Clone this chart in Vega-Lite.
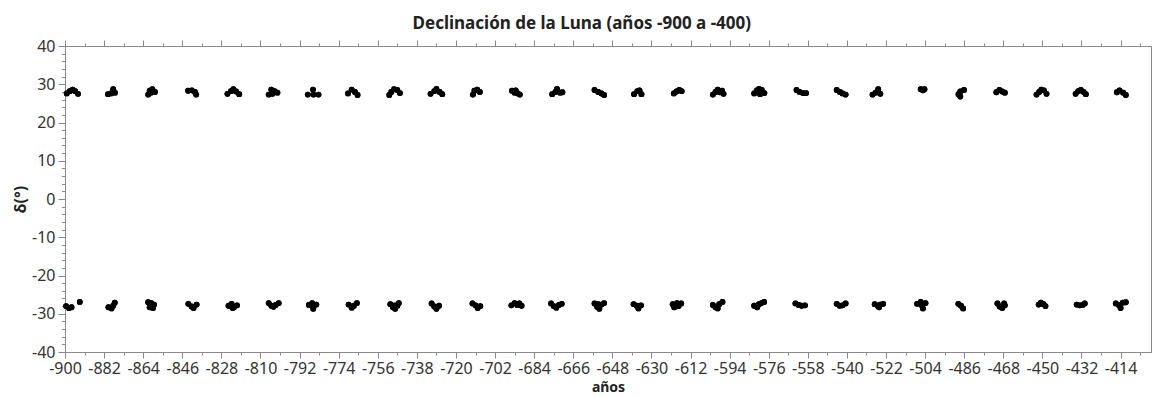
{
  "$schema": "https://vega.github.io/schema/vega-lite/v6.json",
  "width": 1086,
  "height": 306,
  "autosize": "none",
  "padding": {"left": 65, "top": 46, "right": 2, "bottom": 45},
  "background": "white",
  "config": {
    "view": {"stroke": "#8a8a8a", "strokeWidth": 1},
    "font": "Noto Sans",
    "axis": {
      "grid": false,
      "domainColor": "#8a8a8a",
      "tickColor": "#8a8a8a",
      "labelColor": "#333333",
      "labelFont": "Noto Sans",
      "labelFontSize": 16,
      "titleFont": "Noto Sans",
      "titleFontSize": 14,
      "titleFontWeight": "bold",
      "titleColor": "#222222",
      "labelOverlap": false,
      "labelFlush": false,
      "labelBound": false
    }
  },
  "title": {"text": "Declinación de la Luna (años -900 a -400)", "font": "Noto Sans", "fontSize": 17, "fontWeight": "bold", "color": "#222222", "anchor": "middle", "frame": "bounds", "offset": 5},
  "data": {"values": [
    {"year": -899.2, "dec": 27.6}, {"year": -897.8, "dec": 28.2}, {"year": -896.5, "dec": 28.6}, {"year": -895.3, "dec": 28.2}, {"year": -894.0, "dec": 27.5},
    {"year": -880.2, "dec": 27.4}, {"year": -878.8, "dec": 27.6}, {"year": -877.8, "dec": 28.7}, {"year": -877.0, "dec": 27.8},
    {"year": -861.7, "dec": 27.3}, {"year": -861.0, "dec": 28.3}, {"year": -859.8, "dec": 28.7}, {"year": -858.6, "dec": 28.0}, {"year": -860.5, "dec": 27.8},
    {"year": -843.3, "dec": 28.3}, {"year": -841.6, "dec": 28.4}, {"year": -840.2, "dec": 28.0}, {"year": -839.6, "dec": 27.3},
    {"year": -825.2, "dec": 27.5}, {"year": -823.6, "dec": 28.2}, {"year": -822.5, "dec": 28.7}, {"year": -821.2, "dec": 28.1}, {"year": -819.8, "dec": 27.4},
    {"year": -806.2, "dec": 27.3}, {"year": -805.0, "dec": 28.6}, {"year": -803.5, "dec": 28.2}, {"year": -802.2, "dec": 27.8}, {"year": -804.5, "dec": 27.5},
    {"year": -788.2, "dec": 27.3}, {"year": -785.8, "dec": 28.6}, {"year": -785.6, "dec": 27.3}, {"year": -783.3, "dec": 27.3},
    {"year": -769.7, "dec": 27.6}, {"year": -768.0, "dec": 28.6}, {"year": -766.5, "dec": 28.0}, {"year": -765.3, "dec": 27.2},
    {"year": -750.7, "dec": 27.2}, {"year": -749.8, "dec": 28.0}, {"year": -748.5, "dec": 28.7}, {"year": -747.0, "dec": 28.5}, {"year": -745.8, "dec": 27.7},
    {"year": -731.7, "dec": 27.5}, {"year": -730.0, "dec": 28.2}, {"year": -729.0, "dec": 28.8}, {"year": -727.5, "dec": 28.0}, {"year": -726.3, "dec": 27.4},
    {"year": -712.2, "dec": 27.3}, {"year": -711.5, "dec": 28.3}, {"year": -710.2, "dec": 28.6}, {"year": -709.0, "dec": 28.0},
    {"year": -694.2, "dec": 28.3}, {"year": -693.0, "dec": 27.8}, {"year": -691.5, "dec": 27.6}, {"year": -690.6, "dec": 27.3}, {"year": -692.5, "dec": 28.4},
    {"year": -675.7, "dec": 27.4}, {"year": -674.2, "dec": 28.0}, {"year": -673.5, "dec": 28.8}, {"year": -672.0, "dec": 27.8}, {"year": -671.0, "dec": 27.9},
    {"year": -656.2, "dec": 28.5}, {"year": -654.5, "dec": 28.0}, {"year": -653.0, "dec": 27.6}, {"year": -651.8, "dec": 27.2},
    {"year": -638.0, "dec": 27.4}, {"year": -636.5, "dec": 28.2}, {"year": -635.5, "dec": 28.4}, {"year": -634.6, "dec": 27.4},
    {"year": -619.7, "dec": 27.6}, {"year": -618.5, "dec": 28.1}, {"year": -617.2, "dec": 28.5}, {"year": -616.1, "dec": 28.2},
    {"year": -601.7, "dec": 27.3}, {"year": -600.5, "dec": 28.0}, {"year": -599.5, "dec": 28.6}, {"year": -598.5, "dec": 27.9}, {"year": -597.5, "dec": 28.3}, {"year": -596.8, "dec": 27.5},
    {"year": -582.7, "dec": 27.6}, {"year": -581.5, "dec": 28.4}, {"year": -580.5, "dec": 28.8}, {"year": -579.2, "dec": 28.5}, {"year": -578.0, "dec": 27.7}, {"year": -580.0, "dec": 27.4},
    {"year": -563.2, "dec": 28.5}, {"year": -561.8, "dec": 28.0}, {"year": -560.2, "dec": 27.7}, {"year": -558.8, "dec": 27.7},
    {"year": -544.7, "dec": 28.5}, {"year": -543.2, "dec": 28.0}, {"year": -542.0, "dec": 27.6}, {"year": -540.6, "dec": 27.3},
    {"year": -528.2, "dec": 27.3}, {"year": -526.8, "dec": 27.8}, {"year": -525.6, "dec": 28.7}, {"year": -524.6, "dec": 27.5},
    {"year": -506.0, "dec": 28.7}, {"year": -505.0, "dec": 28.4}, {"year": -504.3, "dec": 28.7},
    {"year": -486.1, "dec": 28.5}, {"year": -487.8, "dec": 28.1}, {"year": -488.6, "dec": 27.4}, {"year": -487.8, "dec": 26.8},
    {"year": -471.2, "dec": 27.9}, {"year": -469.8, "dec": 28.5}, {"year": -468.5, "dec": 28.1}, {"year": -467.3, "dec": 27.8},
    {"year": -452.7, "dec": 27.3}, {"year": -451.5, "dec": 28.0}, {"year": -450.5, "dec": 28.6}, {"year": -449.3, "dec": 28.4}, {"year": -448.1, "dec": 27.5},
    {"year": -434.7, "dec": 27.5}, {"year": -433.5, "dec": 28.2}, {"year": -432.3, "dec": 28.5}, {"year": -431.0, "dec": 28.0}, {"year": -430.0, "dec": 27.4},
    {"year": -415.7, "dec": 27.9}, {"year": -414.5, "dec": 28.4}, {"year": -412.8, "dec": 27.8}, {"year": -411.6, "dec": 27.2},
    {"year": -899.5, "dec": -28.0}, {"year": -898.2, "dec": -28.5}, {"year": -897.0, "dec": -28.3}, {"year": -893.2, "dec": -26.9},
    {"year": -880.0, "dec": -28.3}, {"year": -878.6, "dec": -28.6}, {"year": -877.8, "dec": -27.9}, {"year": -877.1, "dec": -27.1},
    {"year": -861.7, "dec": -27.0}, {"year": -860.3, "dec": -27.2}, {"year": -861.0, "dec": -28.3}, {"year": -859.5, "dec": -28.5}, {"year": -859.0, "dec": -27.6},
    {"year": -843.2, "dec": -27.4}, {"year": -841.7, "dec": -28.1}, {"year": -840.8, "dec": -28.5}, {"year": -839.4, "dec": -27.6},
    {"year": -824.7, "dec": -27.9}, {"year": -823.3, "dec": -27.4}, {"year": -822.2, "dec": -28.3}, {"year": -820.8, "dec": -27.8}, {"year": -822.8, "dec": -28.5},
    {"year": -806.2, "dec": -27.2}, {"year": -805.0, "dec": -27.9}, {"year": -804.0, "dec": -28.2}, {"year": -803.0, "dec": -27.7}, {"year": -801.6, "dec": -27.2},
    {"year": -787.7, "dec": -27.7}, {"year": -786.2, "dec": -27.2}, {"year": -785.7, "dec": -28.7}, {"year": -784.3, "dec": -27.6}, {"year": -785.5, "dec": -27.9},
    {"year": -769.4, "dec": -27.6}, {"year": -768.0, "dec": -28.4}, {"year": -767.0, "dec": -27.9}, {"year": -765.6, "dec": -27.2},
    {"year": -750.2, "dec": -27.5}, {"year": -749.0, "dec": -28.3}, {"year": -748.0, "dec": -28.7}, {"year": -747.0, "dec": -27.9}, {"year": -746.3, "dec": -27.2}, {"year": -748.2, "dec": -27.8},
    {"year": -731.2, "dec": -27.3}, {"year": -730.0, "dec": -28.1}, {"year": -729.0, "dec": -28.7}, {"year": -727.8, "dec": -27.9},
    {"year": -712.4, "dec": -27.3}, {"year": -711.0, "dec": -27.8}, {"year": -710.0, "dec": -28.5}, {"year": -708.8, "dec": -28.0},
    {"year": -694.5, "dec": -27.8}, {"year": -693.0, "dec": -27.2}, {"year": -691.8, "dec": -27.7}, {"year": -690.8, "dec": -27.3}, {"year": -689.8, "dec": -27.9},
    {"year": -676.2, "dec": -27.3}, {"year": -675.0, "dec": -28.0}, {"year": -673.8, "dec": -28.4}, {"year": -672.6, "dec": -27.7}, {"year": -671.3, "dec": -27.4},
    {"year": -656.2, "dec": -27.3}, {"year": -655.0, "dec": -28.2}, {"year": -654.0, "dec": -28.7}, {"year": -653.0, "dec": -27.6}, {"year": -651.8, "dec": -27.2}, {"year": -654.5, "dec": -27.5},
    {"year": -638.2, "dec": -27.5}, {"year": -636.8, "dec": -27.9}, {"year": -636.0, "dec": -28.6}, {"year": -634.8, "dec": -27.8},
    {"year": -620.2, "dec": -27.5}, {"year": -619.5, "dec": -28.3}, {"year": -618.2, "dec": -27.2}, {"year": -617.5, "dec": -28.0}, {"year": -616.3, "dec": -27.3},
    {"year": -601.7, "dec": -27.7}, {"year": -600.5, "dec": -28.3}, {"year": -599.5, "dec": -28.6}, {"year": -598.8, "dec": -27.5}, {"year": -597.3, "dec": -26.9},
    {"year": -582.7, "dec": -27.9}, {"year": -581.3, "dec": -28.3}, {"year": -580.5, "dec": -27.5}, {"year": -579.3, "dec": -27.2}, {"year": -578.1, "dec": -26.9},
    {"year": -563.7, "dec": -27.3}, {"year": -562.2, "dec": -27.7}, {"year": -560.8, "dec": -27.9}, {"year": -559.3, "dec": -27.8},
    {"year": -544.7, "dec": -27.4}, {"year": -543.3, "dec": -27.9}, {"year": -542.0, "dec": -27.8}, {"year": -540.6, "dec": -27.3},
    {"year": -527.2, "dec": -27.5}, {"year": -525.8, "dec": -27.9}, {"year": -524.7, "dec": -27.6}, {"year": -523.3, "dec": -27.4}, {"year": -525.2, "dec": -28.3},
    {"year": -507.7, "dec": -27.4}, {"year": -506.0, "dec": -26.9}, {"year": -505.6, "dec": -27.8}, {"year": -505.0, "dec": -28.6}, {"year": -503.8, "dec": -27.2},
    {"year": -488.7, "dec": -27.4}, {"year": -487.5, "dec": -27.9}, {"year": -486.5, "dec": -28.6},
    {"year": -470.7, "dec": -27.3}, {"year": -469.7, "dec": -28.1}, {"year": -468.5, "dec": -28.5}, {"year": -467.3, "dec": -27.8}, {"year": -467.6, "dec": -27.3},
    {"year": -451.7, "dec": -27.6}, {"year": -450.7, "dec": -27.1}, {"year": -449.5, "dec": -27.5}, {"year": -448.6, "dec": -28.0},
    {"year": -434.2, "dec": -27.6}, {"year": -432.8, "dec": -27.8}, {"year": -431.5, "dec": -27.7}, {"year": -430.5, "dec": -27.3},
    {"year": -416.2, "dec": -27.3}, {"year": -414.8, "dec": -27.7}, {"year": -414.0, "dec": -28.5}, {"year": -413.0, "dec": -27.1}, {"year": -411.6, "dec": -27.0}
  ]},
  "layer": [
    {
      "mark": {"type": "circle", "size": 34, "color": "black", "opacity": 1},
      "encoding": {
        "x": {"field": "year", "type": "quantitative", "scale": {"domain": [-900, -400], "nice": false, "zero": false},
          "axis": {"orient": "bottom", "title": "años", "titleFontSize": 14, "titlePadding": 4,
            "values": [-900,-891,-882,-873,-864,-855,-846,-837,-828,-819,-810,-801,-792,-783,-774,-765,-756,-747,-738,-729,-720,-711,-702,-693,-684,-675,-666,-657,-648,-639,-630,-621,-612,-603,-594,-585,-576,-567,-558,-549,-540,-531,-522,-513,-504,-495,-486,-477,-468,-459,-450,-441,-432,-423,-414,-405],
            "labelExpr": "datum.value % 18 === 0 ? replace(datum.label, '\u2212', '-') : ''",
            "tickSize": {"condition": {"test": "datum.value % 18 === 0", "value": 6}, "value": 3},
            "labelPadding": 2}},
        "y": {"field": "dec", "type": "quantitative", "scale": {"domain": [-40, 40], "nice": false, "zero": false},
          "axis": {"orient": "left", "title": "δ(°)", "titleFontSize": 16, "titlePadding": 3,
            "values": [-40,-38,-36,-34,-32,-30,-28,-26,-24,-22,-20,-18,-16,-14,-12,-10,-8,-6,-4,-2,0,2,4,6,8,10,12,14,16,18,20,22,24,26,28,30,32,34,36,38,40],
            "labelExpr": "datum.value % 10 === 0 ? replace(datum.label, '\u2212', '-') : ''",
            "tickSize": {"condition": {"test": "datum.value % 10 === 0", "value": 7}, "value": 3.5},
            "labelPadding": 3}}
      }
    },
    {
      "mark": {"type": "circle", "size": 34, "color": "black", "opacity": 1},
      "encoding": {
        "x": {"field": "year", "type": "quantitative",
          "axis": {"orient": "top", "title": null, "labels": false,
            "values": [-900,-891,-882,-873,-864,-855,-846,-837,-828,-819,-810,-801,-792,-783,-774,-765,-756,-747,-738,-729,-720,-711,-702,-693,-684,-675,-666,-657,-648,-639,-630,-621,-612,-603,-594,-585,-576,-567,-558,-549,-540,-531,-522,-513,-504,-495,-486,-477,-468,-459,-450,-441,-432,-423,-414,-405],
            "tickSize": {"condition": {"test": "datum.value % 18 === 0", "value": 6}, "value": 3}}},
        "y": {"field": "dec", "type": "quantitative", "axis": null}
      }
    }
  ],
  "resolve": {"axis": {"x": "independent", "y": "independent"}}
}
